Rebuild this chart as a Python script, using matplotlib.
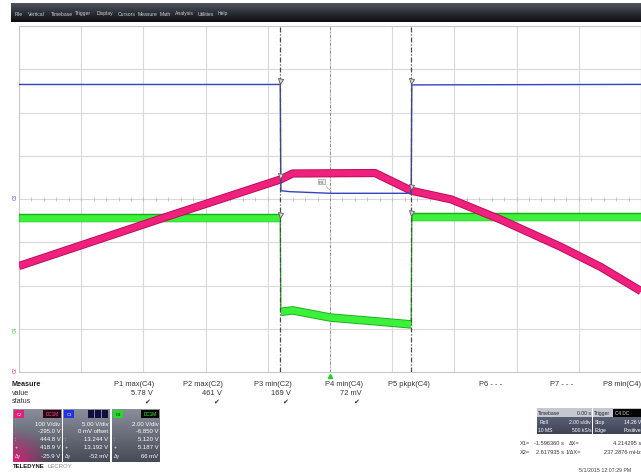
import numpy as np
import matplotlib
matplotlib.use("Agg")
import matplotlib.pyplot as plt
import matplotlib.patheffects as pe
from matplotlib.patches import Rectangle
from matplotlib.colors import to_rgb

# scope settings and readouts
t_per_div = 2.0
x1_cursor = -1.596360
x2_cursor = 2.617935

# C2 (pink) 100 V/div, C3 (blue) 5 V/div, C4 (green) 2 V/div
pink_t = [-10, -5, -1.6, -1.2, 1.45, 2.62, 3.9, 5.5, 7.4, 8.7, 10]
pink_v = [245, 365, 445, 459, 460, 419, 399, 352, 290, 243, 187]

blue_t = [-10, -1.60, -1.58, -1.3, 0.0, 2.61, 2.63, 10]
blue_v = [13.24, 13.24, 0.96, 0.85, 0.66, 0.66, 13.19, 13.25]

green_t = [-10, -1.60, -1.58, -1.2, 0.0, 1.5, 2.61, 2.63, 10]
green_v = [5.12, 5.12, 0.78, 0.85, 0.52, 0.34, 0.20, 5.19, 5.19]

c2_cursor = [444.8, 418.9]
c3_cursor = [13.244, 13.192]
c4_cursor = [5.120, 5.187]

menu_items = ["File", "Vertical", "Timebase", "Trigger", "Display", "Cursors",
              "Measure", "Math", "Analysis", "Utilities", "Help"]
menu_x = [15, 28, 51, 75, 97, 118, 138, 160, 175, 198, 218]

meas_names = ["P1 max(C4)", "P2 max(C2)", "P3 min(C2)", "P4 min(C4)",
              "P5 pkpk(C4)", "P6 - - -", "P7 - - -", "P8 min(C4)"]
meas_values = ["5.78 V", "461 V", "169 V", "72 mV", "", "", "", ""]
meas_ok = [True, True, True, True, False, False, False, False]
meas_right = [154, 223, 292, 363, 430, 502, 573, 641]

W, H = 641, 477
plt.rcParams['font.family'] = ['Liberation Sans', 'DejaVu Sans']
fig = plt.figure(figsize=(W / 100, H / 100), dpi=100)
fig.patch.set_facecolor('white')

# pixel-space overlay for the instrument UI
ui = fig.add_axes([0, 0, 1, 1])
ui.axis('off')


def to_div(v, scale, pos):
    return np.asarray(v, dtype=float) / scale + pos


def grad(nx, ny, top, bot, glow=None):
    yy = np.linspace(0, 1, ny)[:, None, None]
    img = np.array(to_rgb(top)) + (np.array(to_rgb(bot)) - np.array(to_rgb(top))) * yy
    img = np.broadcast_to(img, (ny, nx, 3)).copy()
    if glow:
        xx = np.linspace(0, 1, nx)[None, :]
        g = np.clip(1 - np.hypot(xx * 1.3, (1 - yy[..., 0]) * 1.5), 0, 1) ** 1.2
        img = img * (1 - g[..., None]) + np.array(to_rgb(glow)) * g[..., None]
    return img


# menu bar
ui.imshow(grad(4, 40, '#4d535f', '#0c0d10'), extent=(11, 641, 23, 4),
          aspect='auto', zorder=1)
for name, mx in zip(menu_items, menu_x):
    ui.text(mx, 14, name, fontsize=3.6, color='#cfcfcf', va='center', zorder=2)

# scope grid
ax = fig.add_axes([19 / W, 1 - 373 / H, (641 - 19) / W, (373 - 27) / H])
ax.set_xlim(-5 * t_per_div, 5 * t_per_div)
ax.set_ylim(-4, 4)
ax.set_xticks(np.arange(-10, 10.1, 2))
ax.set_yticks(np.arange(-4, 4.1, 1))
ax.tick_params(length=0, labelbottom=False, labelleft=False)
ax.grid(True, color='#d9d9d9', lw=0.8)
for s in ax.spines.values():
    s.set_color('#c8c8c8')
    s.set_linewidth(0.8)
minor = np.arange(-10, 10.01, 0.4)
ax.plot(minor, np.zeros_like(minor), '|', ms=2.2, mew=0.5, color='#b5b5b5', zorder=2)
ax.axvline(0, color='#8c8c8c', lw=0.7, ls=(0, (3, 2, 1, 2)), zorder=2)


def draw_band(t, y, color, edge, lw):
    t = np.asarray(t, dtype=float)
    y = np.asarray(y, dtype=float)
    ax.plot(t, y, color=edge, lw=0.9, zorder=3)
    cuts = np.where(np.diff(t) < 0.05)[0] + 1
    for st, sy in zip(np.split(t, cuts), np.split(y, cuts)):
        if len(st) > 1:
            ax.plot(st, sy, color=color, lw=lw, solid_capstyle='butt', zorder=4,
                    path_effects=[pe.Stroke(linewidth=lw + 1.3, foreground=edge),
                                  pe.Normal()])


draw_band(green_t, to_div(green_v, 2, -3), '#3cf03c', '#15b015', 4.8)
ax.plot(blue_t, to_div(blue_v, 5, 0), color='#3442c0', lw=1.0, zorder=5)
draw_band(pink_t, to_div(pink_v, 100, -4), '#f0207e', '#b80c52', 4.6)

for xc in (x1_cursor, x2_cursor):
    ax.axvline(xc, color='#4a4a4a', lw=0.9, ls=(0, (4, 1.5, 1, 1.5)), zorder=6)

for i, xc in enumerate((x1_cursor, x2_cursor)):
    ys = [to_div(c3_cursor[i], 5, 0), to_div(c2_cursor[i], 100, -4),
          to_div(c4_cursor[i], 2, -3)]
    ax.plot([xc] * 3, np.array(ys) + 0.08, 'v', ms=3.6, mfc='#d8d8d8',
            mec='#555555', mew=0.6, zorder=7)

ax.annotate('P3', xy=(0.1, to_div(0.66, 5, 0)), xytext=(-0.28, 0.4),
            fontsize=3.2, color='#555555', ha='center', va='center', zorder=8,
            bbox=dict(boxstyle='square,pad=0.15', fc='#ececec', ec='#8a8a8a', lw=0.4),
            arrowprops=dict(arrowstyle='-', color='#8a8a8a', lw=0.4))

# channel markers on the left edge and trigger position
for lab, yy, col in (('C3', 197, '#3442c0'), ('C4', 330, '#22c022'), ('C2', 370, '#e0207a')):
    ui.text(15, yy, lab, fontsize=3.3, color=col, rotation=90, ha='center', va='center')
ui.plot(330, 377, marker='^', ms=3, color='#22d022', zorder=3)

# measurement table
ui.text(12, 385, "Measure", fontsize=5.2, weight='bold', color='#222222', va='center')
ui.text(12, 394, "value", fontsize=5.2, color='#333333', va='center')
ui.text(12, 402, "status", fontsize=5.2, color='#333333', va='center')
for name, val, ok, xr in zip(meas_names, meas_values, meas_ok, meas_right):
    ui.text(xr, 385, name, fontsize=5.4, color='#333333', ha='right', va='center')
    if val:
        ui.text(xr - 1, 394, val, fontsize=5.4, color='#333333', ha='right', va='center')
    if ok:
        ui.text(xr - 4, 402, "\u2714", fontsize=5, color='#333333', ha='right', va='center')

# channel descriptor boxes
boxes = [
    (13, 62, '#e0207a', 'C2', '#2a0614', 'DC1M', '#f05090',
     ["100 V/div", "-295.0 V", "444.8 V", "418.9 V", "-25.9 V"], '#e0207a'),
    (63, 110, '#2232e0', 'C3', '#101040', '', '#8080ff',
     ["5.00 V/div", "0 mV offset", "13.244 V", "13.192 V", "-52 mV"], None),
    (112, 160, '#2ad82a', 'C4', '#050a05', 'DC1M', '#40f040',
     ["2.00 V/div", "-6.850 V", "5.120 V", "5.187 V", "66 mV"], None),
]
row_y = [425, 432, 440, 448, 457]
for x0, x1, col, lab, tagbg, tag, tagfg, lines, glow in boxes:
    ui.imshow(grad(40, 40, '#8a8e9b', '#474b58', glow), extent=(x0, x1, 463, 410),
              aspect='auto', interpolation='bilinear', zorder=1)
    ui.add_patch(Rectangle((x0 + 1, 411), 10, 8, fc=col, ec='none', zorder=2))
    ui.text(x0 + 6, 415, lab, fontsize=3, color='#111111' if lab == 'C4' else 'white',
            ha='center', va='center', zorder=3)
    if tag:
        ui.add_patch(Rectangle((x1 - 19, 411), 18, 8, fc=tagbg, ec='none', zorder=2))
        ui.text(x1 - 10, 415, tag, fontsize=3.3, color=tagfg, ha='center', va='center', zorder=3)
    else:
        for k in range(3):
            ui.add_patch(Rectangle((x1 - 22 + 7 * k, 411), 6, 8, fc=tagbg, ec='none', zorder=2))
    for ry, txt in zip(row_y, lines):
        ui.text(x1 - 1.5, ry, txt, fontsize=4.3, color='white', ha='right', va='center', zorder=3)
    for ry, sym in zip(row_y[2:], [":", "+", "\u0394y"]):
        ui.text(x0 + 2, ry, sym, fontsize=3.8, color='#e8e8e8', va='center', zorder=3)

ui.text(13, 467, "TELEDYNE", fontsize=4.3, weight='bold', color='#111111', va='center')
ui.text(48, 467, "LECROY", fontsize=4.3, color='#8a8a8a', va='center')

# timebase / trigger boxes
for bx0, bx1 in ((537, 592), (593, 641)):
    ui.add_patch(Rectangle((bx0, 409), bx1 - bx0, 9, fc='#c5c8d1', ec='none', zorder=1))
    ui.imshow(grad(4, 20, '#5a6074', '#3e4356'), extent=(bx0, bx1, 435, 418),
              aspect='auto', zorder=1)
ui.text(538, 413.5, "Timebase", fontsize=3.6, color='#222222', va='center', zorder=3)
ui.text(591, 413.5, "0.00 s", fontsize=3.6, color='#222222', ha='right', va='center', zorder=3)
ui.text(540, 422.5, "Roll", fontsize=3.6, color='white', va='center', zorder=3)
ui.text(591, 422.5, "2.00 s/div", fontsize=3.6, color='white', ha='right', va='center', zorder=3)
ui.text(538, 431, "10 MS", fontsize=3.6, color='white', va='center', zorder=3)
ui.text(591, 431, "500 kS/s", fontsize=3.6, color='white', ha='right', va='center', zorder=3)
ui.text(594, 413.5, "Trigger", fontsize=3.6, color='#222222', va='center', zorder=3)
ui.add_patch(Rectangle((613, 410), 28, 7.5, fc='#050505', ec='none', zorder=2))
ui.text(615, 413.7, "C4 DC", fontsize=3.4, color='#d8d8d8', va='center', zorder=3)
ui.text(595, 422.5, "Stop", fontsize=3.6, color='white', va='center', zorder=3)
ui.text(641, 422.5, "14.26 V", fontsize=3.6, color='white', ha='right', va='center', zorder=3)
ui.text(595, 431, "Edge", fontsize=3.6, color='white', va='center', zorder=3)
ui.text(641, 431, "Positive", fontsize=3.6, color='white', ha='right', va='center', zorder=3)

dx = x2_cursor - x1_cursor
ui.text(520, 444, "X1=", fontsize=4.1, color='#333333', va='center')
ui.text(564, 444, f"{x1_cursor:.6f} s", fontsize=4.1, color='#333333', ha='right', va='center')
ui.text(569, 444, "\u0394X=", fontsize=4.1, color='#333333', va='center')
ui.text(641, 444, f"{dx:.6f} s", fontsize=4.1, color='#333333', ha='right', va='center')
ui.text(520, 453, "X2=", fontsize=4.1, color='#333333', va='center')
ui.text(564, 453, f"{x2_cursor:.6f} s", fontsize=4.1, color='#333333', ha='right', va='center')
ui.text(566, 453, "1/\u0394X=", fontsize=4.1, color='#333333', va='center')
ui.text(641, 453, f"{1000 / dx:.4f} mHz", fontsize=4.1, color='#333333', ha='right', va='center')
ui.text(579, 471, "5/1/2015 12:07:29 PM", fontsize=3.8, color='#444444', va='center')

ui.set_xlim(0, W)
ui.set_ylim(H, 0)

fig.savefig("out.png", dpi=100, facecolor='white')
